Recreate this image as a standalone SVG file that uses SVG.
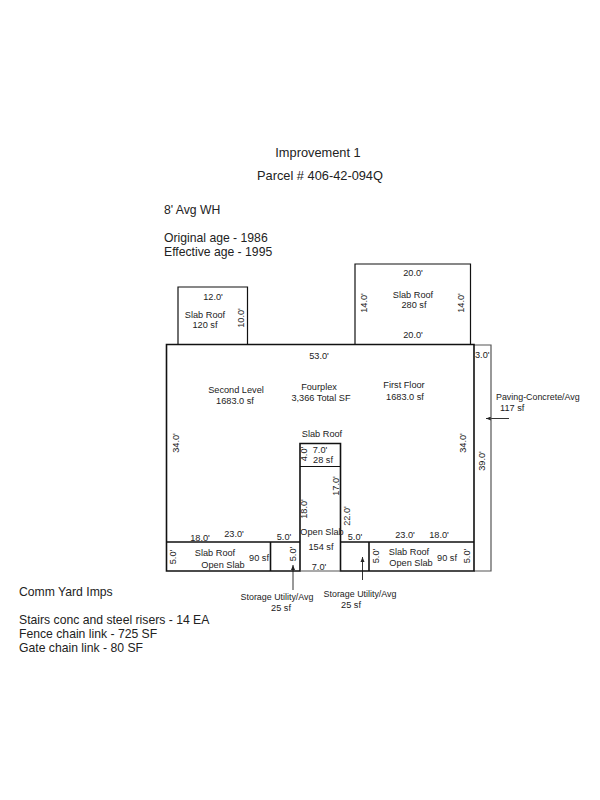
<svg xmlns="http://www.w3.org/2000/svg" width="600" height="800" viewBox="0 0 600 800">
<style>
text{font-family:"Liberation Sans",Arial,sans-serif;font-size:9.2px;fill:#222}
.l{font-size:12.2px}
.t{font-size:12.8px}
.c{text-anchor:middle}
.n{font-size:8.9px}
.w{fill:none;stroke:#111;stroke-width:1.2}
.b{fill:none;stroke:#111;stroke-width:1.6}
.g{fill:none;stroke:#555;stroke-width:1.2}
.a{fill:none;stroke:#333;stroke-width:1;marker-start:url(#ah)}
</style>
<defs><marker id="ah" markerWidth="6" markerHeight="6" refX="0" refY="2" orient="auto" markerUnits="userSpaceOnUse"><path d="M0 2L5 0V4Z" fill="#222"/></marker></defs>
<rect width="600" height="800" fill="#fff"/>
<g id="connectors">
<path class="a" d="M486 418.500H509"/>
<path class="a" d="M293 565V590"/>
<path class="a" d="M362.500 557V580"/>
</g>
<g id="titles">
<text class="t c" x="318" y="157">Improvement 1</text>
<text class="t c" x="320" y="180">Parcel # 406-42-094Q</text>
<text class="l" x="164" y="214">8' Avg WH</text>
<text class="l" x="164" y="242">Original age - 1986</text>
<text class="l" x="164" y="256">Effective age - 1995</text>
</g>
<g id="yard-imps">
<text class="l" x="19" y="596">Comm Yard Imps</text>
<text class="l" x="19" y="624">Stairs conc and steel risers - 14 EA</text>
<text class="l" x="19" y="638">Fence chain link - 725 SF</text>
<text class="l" x="19" y="652">Gate chain link - 80 SF</text>
</g>
<g id="paving">
<path class="g" d="M474 345H491V571H474"/>
<text x="475" y="358">3.0'</text>
<text transform="translate(485,461) rotate(-90)" class="c">39.0'</text>
<text class="n" x="496" y="400">Paving-Concrete/Avg</text>
<text x="500" y="411">117 sf</text>
</g>
<g id="slab-roof-120">
<path class="w" d="M178 345V287H247.500V345"/>
<text class="c" x="213" y="300">12.0'</text>
<text class="c" x="205" y="318">Slab Roof</text>
<text class="c" x="205" y="328">120 sf</text>
<text transform="translate(244,318) rotate(-90)" class="c">10.0'</text>
</g>
<g id="slab-roof-280">
<path class="w" d="M355 345V264H470.500V345"/>
<text class="c" x="413" y="276">20.0'</text>
<text class="c" x="413" y="298">Slab Roof</text>
<text class="c" x="414" y="308">280 sf</text>
<text class="c" x="413" y="338">20.0'</text>
<text transform="translate(367,303) rotate(-90)" class="c">14.0'</text>
<text transform="translate(464,303) rotate(-90)" class="c">14.0'</text>
</g>
<g id="main-building">
<path class="b" d="M166.500 344.500H474V571H340.500V443.500H300V571H166.500Z"/>
<text class="c" x="319" y="359">53.0'</text>
<text class="c" x="236" y="393">Second Level</text>
<text class="c" x="235" y="404">1683.0 sf</text>
<text class="c" x="319" y="390">Fourplex</text>
<text class="c" x="321" y="401">3,366 Total SF</text>
<text class="c" x="404" y="388">First Floor</text>
<text class="c" x="405" y="400">1683.0 sf</text>
<text transform="translate(179,443) rotate(-90)" class="c">34.0'</text>
<text transform="translate(466,443) rotate(-90)" class="c">34.0'</text>
</g>
<g id="slab-roof-28">
<path class="w" d="M300 466.500H340.500"/>
<text class="c" x="322" y="437">Slab Roof</text>
<text class="c" x="320" y="453">7.0'</text>
<text class="c" x="323" y="463">28 sf</text>
<text transform="translate(307,454) rotate(-90)" class="c">4.0'</text>
</g>
<g id="open-slab-154">
<path class="g" d="M300 571H340.500"/>
<text class="c" x="322" y="535">Open Slab</text>
<text class="c" x="321" y="550">154 sf</text>
<text class="c" x="319" y="570">7.0'</text>
<text transform="translate(307,509) rotate(-90)" class="c">18.0'</text>
<text transform="translate(339,486) rotate(-90)" class="c">17.0'</text>
<text transform="translate(350,516) rotate(-90)" class="c">22.0'</text>
</g>
<g id="slab-left">
<path class="b" d="M166.500 542H300M270.500 542V571"/>
<text class="c" x="200" y="541">18.0'</text>
<text class="c" x="234" y="537">23.0'</text>
<text class="c" x="215" y="556">Slab Roof</text>
<text class="c" x="223" y="568">Open Slab</text>
<text class="c" x="259" y="561">90 sf</text>
<text transform="translate(176,557) rotate(-90)" class="c">5.0'</text>
</g>
<g id="storage-left">
<text class="c" x="284" y="540">5.0'</text>
<text transform="translate(296,554) rotate(-90)" class="c">5.0'</text>
<text class="c n" x="277" y="600">Storage Utility/Avg</text>
<text class="c" x="281" y="611">25 sf</text>
</g>
<g id="slab-right">
<path class="b" d="M340.500 542H474M369 542V571"/>
<text class="c" x="405" y="538">23.0'</text>
<text class="c" x="439" y="538">18.0'</text>
<text class="c" x="409" y="555">Slab Roof</text>
<text class="c" x="411" y="566">Open Slab</text>
<text class="c" x="447" y="561">90 sf</text>
<text transform="translate(379,556) rotate(-90)" class="c">5.0'</text>
<text transform="translate(470,556) rotate(-90)" class="c">5.0'</text>
</g>
<g id="storage-right">
<text class="c" x="355" y="540">5.0'</text>
<text class="c n" x="360" y="597">Storage Utility/Avg</text>
<text class="c" x="351" y="608">25 sf</text>
</g>
</svg>
